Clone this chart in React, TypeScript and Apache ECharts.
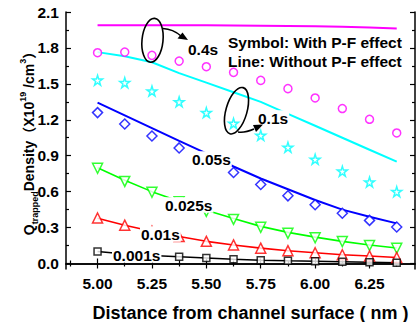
import React, { useEffect, useRef } from "react";
import * as echarts from "echarts";

const distance = [5.0, 5.125, 5.25, 5.375, 5.5, 5.625, 5.75, 5.875, 6.0, 6.125, 6.25, 6.375];
const line04 = [1.99, 1.99, 1.99, 1.99, 1.989, 1.988, 1.986, 1.984, 1.98, 1.976, 1.97, 1.963];
const sym04 = [1.76, 1.765, 1.738, 1.69, 1.643, 1.596, 1.529, 1.46, 1.382, 1.294, 1.204, 1.09];
const line01 = [1.765, 1.73, 1.68, 1.59, 1.51, 1.43, 1.35, 1.25, 1.15, 1.05, 0.95, 0.85];
const sym01 = [1.53, 1.51, 1.44, 1.35, 1.26, 1.17, 1.07, 0.97, 0.87, 0.77, 0.68, 0.6];
const line005 = [1.343, 1.237, 1.13, 1.024, 0.92, 0.81, 0.71, 0.62, 0.53, 0.45, 0.39, 0.335];
const sym005 = [1.26, 1.165, 1.065, 0.965, 0.86, 0.76, 0.66, 0.565, 0.49, 0.42, 0.36, 0.305];
const line0025 = [0.8, 0.695, 0.6, 0.52, 0.445, 0.375, 0.31, 0.26, 0.22, 0.185, 0.155, 0.13];
const sym0025 = [0.795, 0.685, 0.595, 0.515, 0.435, 0.368, 0.302, 0.252, 0.215, 0.183, 0.15, 0.127];
const line001 = [0.378, 0.32, 0.27, 0.225, 0.185, 0.155, 0.128, 0.107, 0.09, 0.073, 0.063, 0.05];
const sym001 = [0.38, 0.32, 0.27, 0.225, 0.185, 0.155, 0.128, 0.107, 0.09, 0.073, 0.063, 0.05];
const line0001 = [0.1, 0.08, 0.066, 0.056, 0.046, 0.036, 0.028, 0.022, 0.018, 0.014, 0.01, 0.006];
const sym0001 = [0.1, 0.08, 0.066, 0.056, 0.046, 0.036, 0.028, 0.022, 0.018, 0.014, 0.01, 0.006];

const xMajor = [5.0, 5.25, 5.5, 5.75, 6.0, 6.25];
const xMinor = [4.875, 5.125, 5.375, 5.625, 5.875, 6.125, 6.375];
const yMajor = [0, 0.3, 0.6, 0.9, 1.2, 1.5, 1.8, 2.1];
const yMinor = [0.15, 0.45, 0.75, 1.05, 1.35, 1.65, 1.95];

const FONT = '"Liberation Sans", Arial, "Noto Sans CJK SC", sans-serif';
const STAR = "path://M50,0 L61,35 L98,35 L68,57 L79,91 L50,70 L21,91 L32,57 L2,35 L39,35 Z";

const pairs = (ys: number[]) => distance.map((x, i) => [x, ys[i]]);

export default function App() {
  const ref = useRef<HTMLDivElement>(null);
  useEffect(() => {
    if (!ref.current) return;
    const chart = echarts.init(ref.current, null, { renderer: "svg" });
    const X_MIN = 4.855, X_MAX = 6.459, Y_MIN = -0.046, Y_MAX = 2.1;
    const axisLine = { show: true, lineStyle: { color: "#000", width: 1.5 } };
    const mkX = (position: string, vals: number[], len: number, labels: boolean, line: boolean) => ({
      type: "value", min: X_MIN, max: X_MAX, position,
      axisLine: { ...axisLine, show: line },
      axisTick: { show: true, inside: true, length: len, customValues: vals, lineStyle: { color: "#000", width: 1.2 } },
      axisLabel: labels
        ? { show: true, customValues: vals, formatter: (v: number) => v.toFixed(2), color: "#000", fontSize: 15.5, fontWeight: "bold", fontFamily: FONT, margin: 7 }
        : { show: false },
      splitLine: { show: false },
    });
    const mkY = (position: string, vals: number[], len: number, labels: boolean, line: boolean) => ({
      type: "value", min: Y_MIN, max: Y_MAX, position,
      axisLine: { ...axisLine, show: line },
      axisTick: { show: true, inside: true, length: len, customValues: vals, lineStyle: { color: "#000", width: 1.2 } },
      axisLabel: labels
        ? { show: true, customValues: vals, formatter: (v: number) => v.toFixed(1), color: "#000", fontSize: 15.5, fontWeight: "bold", fontFamily: FONT, margin: 7 }
        : { show: false },
      splitLine: { show: false },
    });
    const lineS = (data: number[], color: string, width: number) => ({
      type: "line", data: pairs(data), symbol: "none", lineStyle: { color, width }, silent: true, z: 2,
    });
    const symS = (data: number[], color: string, symbol: string, size: number, rotate = 0) => ({
      type: "scatter", data: pairs(data), symbol, symbolSize: size, symbolRotate: rotate,
      itemStyle: { color: "#fff", borderColor: color, borderWidth: 1.5 }, z: 3,
    });
    const txt = (text: string, x: number, y: number, bg = false, size = 15.5) => ({
      type: "text", x, y, z: 100,
      style: {
        text, fill: "#000", fontSize: size, fontWeight: "bold", fontFamily: FONT,
        align: "left", verticalAlign: "middle",
        ...(bg ? { backgroundColor: "#fff", padding: [0, 1] } : {}),
      },
    });
    chart.setOption({
      animation: false,
      backgroundColor: "#fff",
      grid: { left: 66, right: 2, top: 12, bottom: 53, containLabel: false },
      xAxis: [
        mkX("bottom", xMajor, 5, true, true),
        mkX("top", xMajor, 5, false, true),
        mkX("bottom", xMinor, 3, false, false),
        mkX("top", xMinor, 3, false, false),
      ],
      yAxis: [
        mkY("left", yMajor, 5, true, true),
        mkY("right", yMajor, 5, false, true),
        mkY("left", yMinor, 3, false, false),
        mkY("right", yMinor, 3, false, false),
      ],
      series: [
        lineS(line04, "#ff00ff", 2),
        lineS(line01, "#00ffff", 2),
        lineS(line005, "#0000ff", 2),
        lineS(line0025, "#00ff00", 1.6),
        lineS(line001, "#ff0000", 1.6),
        lineS(line0001, "#000000", 1.5),
        symS(sym04, "#ff00ff", "circle", 8),
        symS(sym01, "#00ffff", STAR, 10),
        symS(sym005, "#0000ff", "diamond", 10),
        symS(sym0025, "#00ff00", "triangle", 10, 180),
        symS(sym001, "#ff0000", "triangle", 10),
        symS(sym0001, "#000000", "rect", 7),
      ],
      graphic: [
        txt("0.05s", 191, 159, true),
        txt("0.025s", 164, 205, true),
        txt("0.01s", 140, 234, true),
        txt("0.001s", 112, 255, true),
        txt("0.1s", 257, 118, true),
        txt("0.4s", 188, 49),
        txt("Symbol: With P-F effect", 228, 42),
        txt("Line: Without P-F effect", 228, 61),
        {
          type: "ellipse", x: 152.5, y: 40.3, rotation: -0.1, z: 100,
          shape: { cx: 0, cy: 0, rx: 10.5, ry: 22 },
          style: { fill: "none", stroke: "#000", lineWidth: 1.6 },
        },
        {
          type: "bezierCurve", z: 100,
          shape: { x1: 163, y1: 28.5, cpx1: 173, cpy1: 29, x2: 181, y2: 36 },
          style: { fill: "none", stroke: "#000", lineWidth: 1.6 },
        },
        {
          type: "polygon", z: 100,
          shape: { points: [[188, 40], [177.5, 38.5], [182.5, 32.5]] },
          style: { fill: "#000" },
        },
        {
          type: "ellipse", x: 236.5, y: 110.7, rotation: -0.28, z: 100,
          shape: { cx: 0, cy: 0, rx: 10.5, ry: 24 },
          style: { fill: "none", stroke: "#000", lineWidth: 1.6 },
        },
        {
          type: "bezierCurve", z: 100,
          shape: { x1: 238, y1: 132, cpx1: 245, cpy1: 133, x2: 254, y2: 129 },
          style: { fill: "none", stroke: "#000", lineWidth: 1.6 },
        },
        {
          type: "polygon", z: 100,
          shape: { points: [[263, 124.5], [253, 125], [256, 132]] },
          style: { fill: "#000" },
        },
        {
          type: "text", x: 250.5, y: 312.5, z: 100,
          style: {
            text: "Distance from channel surface ( nm )", fill: "#000", fontSize: 18, fontWeight: "bold",
            fontFamily: FONT, align: "center", verticalAlign: "middle",
          },
        },
        {
          type: "text", x: 29, y: 140, rotation: Math.PI / 2, z: 100,
          style: {
            text: "{m|Q}{sub|trapped}{m|Density（X10}{sup|19}{m| /cm}{sup|3}{m|）}",
            fill: "#000", fontWeight: "bold", fontFamily: FONT, fontSize: 14,
            align: "center", verticalAlign: "middle",
            rich: {
              m: { fontSize: 14, fontWeight: "bold", fontFamily: FONT, lineHeight: 22, verticalAlign: "middle", fill: "#000" },
              sub: { fontSize: 9, fontWeight: "bold", fontFamily: FONT, verticalAlign: "bottom", fill: "#000" },
              sup: { fontSize: 9, fontWeight: "bold", fontFamily: FONT, verticalAlign: "top", fill: "#000" },
            },
          },
        },
      ],
    });
    return () => chart.dispose();
  }, []);
  return <div ref={ref} style={{ position: "absolute", left: 0, top: 0, width: 417, height: 322 }} />;
}
